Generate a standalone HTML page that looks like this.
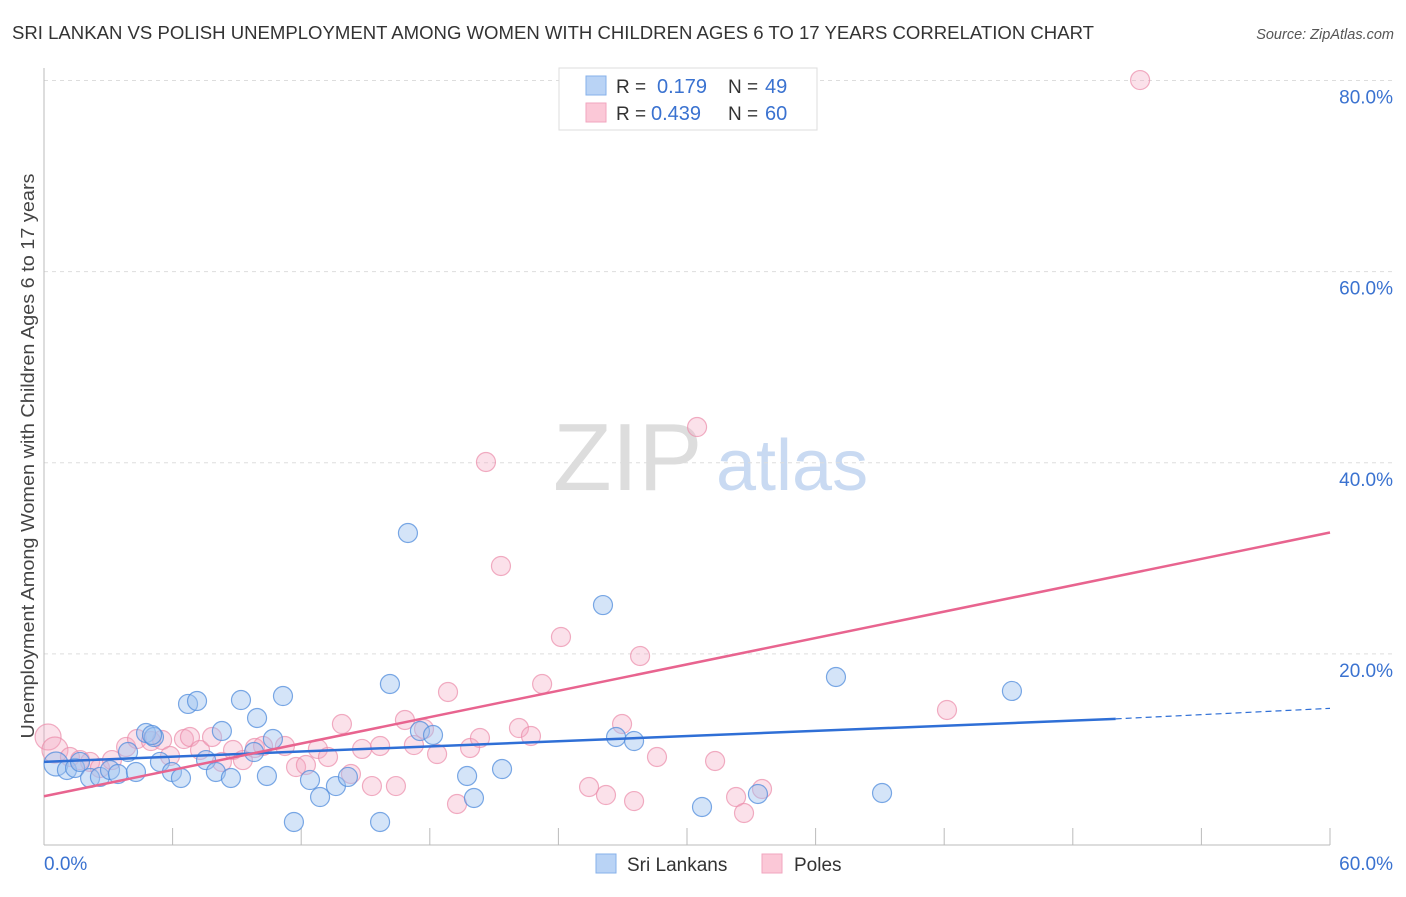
<!DOCTYPE html>
<html><head><meta charset="utf-8"><style>
body{margin:0;background:#fff;font-family:"Liberation Sans",sans-serif;}
svg text{font-family:"Liberation Sans",sans-serif;}
</style></head><body>
<svg id="chart" width="1406" height="892" xmlns="http://www.w3.org/2000/svg">
<text x="12" y="39" font-size="18" fill="#333" textLength="1082" lengthAdjust="spacingAndGlyphs">SRI LANKAN VS POLISH UNEMPLOYMENT AMONG WOMEN WITH CHILDREN AGES 6 TO 17 YEARS CORRELATION CHART</text>
<text x="1394" y="39" font-size="14.5" fill="#555" font-style="italic" text-anchor="end">Source: ZipAtlas.com</text>
<g>
<text x="553" y="490" font-size="96" fill="#ddd" font-family="Liberation Serif,serif">ZIP</text>
<text x="716" y="490" font-size="72" fill="#c9daf2">atlas</text>
</g>
<g id="grid"></g>
<g id="axes"></g>
<g id="points"></g>
<g id="lines"></g>
<text transform="translate(34,456) rotate(-90)" font-size="18.5" fill="#444" text-anchor="middle" textLength="565" lengthAdjust="spacingAndGlyphs">Unemployment Among Women with Children Ages 6 to 17 years</text>
<g>
<rect x="559" y="68" width="258" height="62" fill="#fff" stroke="#ddd"/>
<rect x="586" y="76" width="20" height="19" fill="#b9d3f5" stroke="#86b0ea"/>
<rect x="586" y="103" width="20" height="19" fill="#fbc8d7" stroke="#f2a6bf"/>
<text x="616" y="93" font-size="19" fill="#333">R = </text><text x="657" y="93" font-size="20" fill="#3a72d0">0.179</text>
<text x="728" y="93" font-size="19" fill="#333">N = </text><text x="765" y="93" font-size="20" fill="#3a72d0">49</text>
<text x="616" y="120" font-size="19" fill="#333">R = </text><text x="651" y="120" font-size="20" fill="#3a72d0">0.439</text>
<text x="728" y="120" font-size="19" fill="#333">N = </text><text x="765" y="120" font-size="20" fill="#3a72d0">60</text>
</g>
<g>
<rect x="596" y="854" width="20" height="19" fill="#b9d3f5" stroke="#86b0ea"/>
<text x="627" y="871" font-size="19" fill="#333">Sri Lankans</text>
<rect x="762" y="854" width="20" height="19" fill="#fbc8d7" stroke="#f2a6bf"/>
<text x="794" y="871" font-size="19" fill="#333">Poles</text>
</g>
</svg>
<script>
const blueX=[0.56,1.07,1.45,1.68,2.15,2.61,3.08,3.45,3.92,4.29,4.76,5.13,5.41,5.97,6.39,6.72,7.14,7.56,8.02,8.30,8.72,9.19,9.80,9.94,10.40,10.68,11.15,12.41,12.88,13.62,14.18,15.68,16.14,16.98,17.54,18.15,19.74,20.06,21.37,26.08,26.69,27.53,30.70,33.31,36.95,39.10,45.16,11.66,5.04];
const blueY=[8.48,7.85,8.06,8.69,7.01,7.12,7.85,7.43,9.73,7.64,11.72,11.30,8.69,7.64,7.01,14.76,15.07,8.89,7.64,11.93,7.01,15.17,9.73,13.29,7.22,11.09,15.59,6.80,5.02,6.17,7.12,2.41,16.85,32.65,11.93,11.51,7.22,4.92,7.95,25.11,11.30,10.88,3.98,5.34,17.58,5.44,16.12,2.41,11.51];
const pinkX=[0.19,0.51,1.21,1.68,2.15,2.61,3.17,3.83,4.34,4.99,5.51,5.88,6.53,6.81,7.28,7.84,8.30,8.82,9.28,9.84,10.22,11.24,11.76,12.22,12.78,13.25,13.90,14.32,14.84,15.30,15.68,16.42,16.84,17.26,17.73,18.34,18.85,19.27,19.88,20.34,20.62,21.32,22.16,22.72,24.12,23.24,25.43,26.22,26.97,27.53,27.81,28.60,30.47,31.31,32.29,32.66,33.50,42.13,51.14];
const pinkY=[11.30,9.94,9.21,8.89,8.69,8.06,8.89,10.26,11.09,10.88,10.99,9.31,11.09,11.30,9.94,11.30,8.69,9.94,8.89,10.15,10.36,10.36,8.16,8.37,10.05,9.21,12.66,7.43,10.05,6.17,10.36,6.17,13.08,10.46,12.14,9.52,16.01,4.29,10.15,11.20,40.08,29.20,12.24,11.41,21.77,16.85,6.07,5.23,12.66,4.60,19.78,9.21,43.74,8.79,5.02,3.35,5.86,14.13,80.05];
const blueTrend=[[0,8.7],[50,13.2],[60,14.3]];
const pinkTrend=[[0,5.1],[60,32.7]];
const yTicks=[20,40,60,80];
const yTickLabels=["20.0%","40.0%","60.0%","80.0%"];
const xTicks=[0,6,12,18,24,30,36,42,48,54,60];
const xEndLabels=["0.0%","60.0%"];
const X=v=>44+v*(1286/60);
const Y=v=>845-v*9.556;
const NS="http://www.w3.org/2000/svg";
function mk(p,t,a){const e=document.createElementNS(NS,t);for(const k in a)e.setAttribute(k,a[k]);p.appendChild(e);return e;}
const grid=document.getElementById('grid'),axes=document.getElementById('axes'),pts=document.getElementById('points'),lines=document.getElementById('lines');
yTicks.forEach((t,i)=>{
 const l=mk(grid,'line',{x1:44,x2:1394,y1:Y(t),y2:Y(t),stroke:'#ddd','stroke-dasharray':'4,4'});
 
 
 const tx=mk(axes,'text',{x:1393,y:Y(t)+23,'font-size':19,fill:'#3a72d0','text-anchor':'end'});
 tx.textContent=yTickLabels[i];
 
 
});
const ax=mk(axes,'line',{x1:44,x2:1330,y1:845,y2:845,stroke:'#bbb'});


const ay=mk(axes,'line',{x1:44,x2:44,y1:68,y2:845,stroke:'#bbb'});


xTicks.forEach(t=>{
 const l=mk(axes,'line',{x1:X(t),x2:X(t),y1:828,y2:845,stroke:'#bbb'});
 
 
});
const xl0=mk(axes,'text',{x:44,y:870,'font-size':19,fill:'#3a72d0'});xl0.textContent=xEndLabels[0];


const xl1=mk(axes,'text',{x:1393,y:870,'font-size':19,fill:'#3a72d0','text-anchor':'end'});xl1.textContent=xEndLabels[1];


pinkX.forEach((x,i)=>{
 const c=mk(pts,'circle',{cx:X(x),cy:Y(pinkY[i]),r:i<2?13:9.5,fill:'rgba(244,170,195,0.35)',stroke:'rgba(235,140,170,0.7)','stroke-width':1.2});
 
 
});
blueX.forEach((x,i)=>{
 const c=mk(pts,'circle',{cx:X(x),cy:Y(blueY[i]),r:i<1?12:9.5,fill:'rgba(160,195,240,0.45)',stroke:'rgba(80,140,220,0.75)','stroke-width':1.2});
 
 
});
const bl=mk(lines,'line',{x1:X(blueTrend[0][0]),y1:Y(blueTrend[0][1]),x2:X(blueTrend[1][0]),y2:Y(blueTrend[1][1]),stroke:'#2f6fd6','stroke-width':2.5});


const bd=mk(lines,'line',{x1:X(blueTrend[1][0]),y1:Y(blueTrend[1][1]),x2:X(blueTrend[2][0]),y2:Y(blueTrend[2][1]),stroke:'#2f6fd6','stroke-width':1.2,'stroke-dasharray':'6,4'});


const pl=mk(lines,'line',{x1:X(pinkTrend[0][0]),y1:Y(pinkTrend[0][1]),x2:X(pinkTrend[1][0]),y2:Y(pinkTrend[1][1]),stroke:'#e8648f','stroke-width':2.5});


</script>
</body></html>
